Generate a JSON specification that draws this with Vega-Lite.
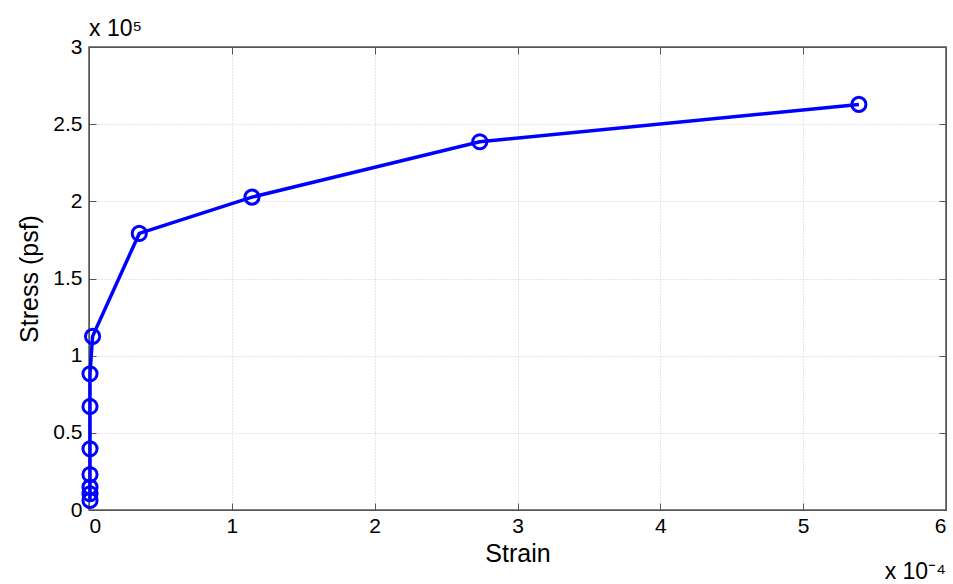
{
  "$schema": "https://vega.github.io/schema/vega-lite/v6.json",
  "width": 857,
  "height": 463,
  "autosize": "none",
  "padding": {"left": 89, "top": 47, "right": 7, "bottom": 74},
  "background": "white",
  "config": {
    "font": "Liberation Sans",
    "view": {"stroke": "#555555", "strokeWidth": 1.5}
  },
  "title": {
    "text": "x 10⁵",
    "anchor": "start",
    "frame": "group",
    "fontSize": 23,
    "fontWeight": "normal",
    "font": "Liberation Sans",
    "color": "#000000",
    "offset": -5
  },
  "datasets": {
    "curve": [
      {"strain": 0.0000007, "stress": 6200},
      {"strain": 0.0000007, "stress": 10500},
      {"strain": 0.0000007, "stress": 14800},
      {"strain": 0.0000007, "stress": 23000},
      {"strain": 0.0000007, "stress": 39700},
      {"strain": 0.0000007, "stress": 67100},
      {"strain": 0.0000007, "stress": 88300},
      {"strain": 0.0000025, "stress": 112500},
      {"strain": 0.0000352, "stress": 179200},
      {"strain": 0.0001141, "stress": 202700},
      {"strain": 0.0002736, "stress": 238600},
      {"strain": 0.000539, "stress": 262800}
    ],
    "note": [
      {"strain": 0.0006, "stress": 0, "label": "x 10⁻⁴"}
    ]
  },
  "resolve": {"axis": {"x": "independent", "y": "independent"}},
  "layer": [
    {
      "data": {"name": "curve"},
      "mark": {"type": "line", "color": "#0000ff", "strokeWidth": 3.5, "clip": false},
      "encoding": {
        "x": {
          "field": "strain",
          "type": "quantitative",
          "scale": {"domain": [0, 0.0006], "nice": false, "zero": false},
          "axis": {
            "title": "Strain",
            "values": [0, 0.0001, 0.0002, 0.0003, 0.0004, 0.0005, 0.0006],
            "labelExpr": "format(datum.value * 10000, '~g')",
            "labelFont": "Liberation Sans",
            "titleFont": "Liberation Sans",
            "labelFontSize": 21,
            "titleFontSize": 25,
            "titleFontWeight": "normal",
            "labelColor": "#000000",
            "titleColor": "#000000",
            "domainColor": "#555555",
            "tickColor": "#555555",
            "gridColor": "#cccccc",
            "gridDash": [1, 2],
            "tickSize": -7,
            "labelPadding": 12,
            "titlePadding": 5,
            "grid": true
          }
        },
        "y": {
          "field": "stress",
          "type": "quantitative",
          "scale": {"domain": [0, 300000], "nice": false, "zero": false},
          "axis": {
            "title": "Stress (psf)",
            "values": [0, 50000, 100000, 150000, 200000, 250000, 300000],
            "labelExpr": "format(datum.value / 100000, '~g')",
            "labelFont": "Liberation Sans",
            "titleFont": "Liberation Sans",
            "labelFontSize": 21,
            "titleFontSize": 25,
            "titleFontWeight": "normal",
            "labelColor": "#000000",
            "titleColor": "#000000",
            "domainColor": "#555555",
            "tickColor": "#555555",
            "gridColor": "#cccccc",
            "gridDash": [1, 2],
            "tickSize": -7,
            "labelPadding": 14,
            "titlePadding": 10,
            "grid": true
          }
        }
      }
    },
    {
      "data": {"name": "curve"},
      "mark": {"type": "point", "shape": "circle", "filled": false, "color": "#0000ff", "strokeWidth": 3, "size": 200, "opacity": 1, "clip": false},
      "encoding": {
        "x": {
          "field": "strain",
          "type": "quantitative",
          "axis": {
            "orient": "top",
            "values": [0, 0.0001, 0.0002, 0.0003, 0.0004, 0.0005, 0.0006],
            "labels": false,
            "title": null,
            "grid": false,
            "domainColor": "#555555",
            "tickColor": "#555555",
            "tickSize": -7
          }
        },
        "y": {
          "field": "stress",
          "type": "quantitative",
          "axis": {
            "orient": "right",
            "values": [0, 50000, 100000, 150000, 200000, 250000, 300000],
            "labels": false,
            "title": null,
            "grid": false,
            "domainColor": "#555555",
            "tickColor": "#555555",
            "tickSize": -7
          }
        }
      }
    },
    {
      "data": {"name": "note"},
      "mark": {"type": "text", "align": "right", "baseline": "alphabetic", "fontSize": 23, "fontWeight": "normal", "font": "Liberation Sans", "fill": "#000000", "dy": 69, "clip": false},
      "encoding": {
        "x": {"field": "strain", "type": "quantitative", "axis": null},
        "y": {"field": "stress", "type": "quantitative", "axis": null},
        "text": {"field": "label"}
      }
    }
  ]
}
